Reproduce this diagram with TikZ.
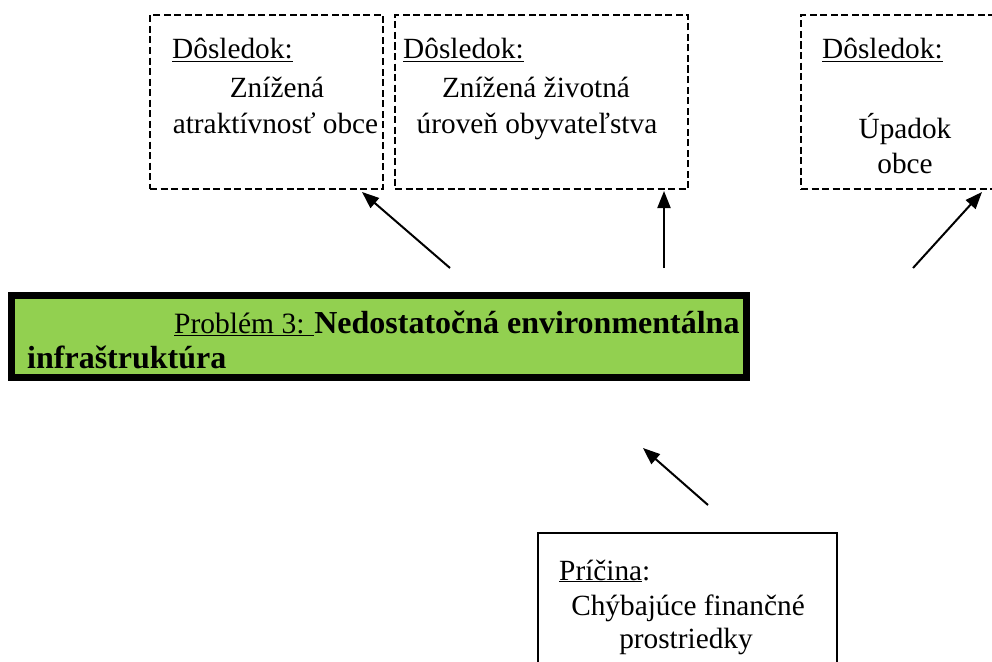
\documentclass[tikz,border=0pt]{standalone}
\usepackage{fontspec}
\setmainfont{Liberation Serif}
\usetikzlibrary{arrows.meta}
\definecolor{probgreen}{RGB}{146,208,80}
\tikzset{
  dbox/.style={draw, line width=2.4pt, dash pattern=on 7pt off 3.5pt, inner sep=0pt},
  sbox/.style={draw, line width=1.5pt, inner sep=0pt},
  gbox/.style={draw, line width=7pt, fill=probgreen, inner sep=0pt},
  txt/.style={inner sep=0pt, font=\fontsize{29.3}{35}\selectfont},
  gtxt/.style={inner sep=0pt, font=\fontsize{32}{36}\selectfont},
  arr/.style={line width=2pt, -{Triangle[length=17pt,width=13pt]}}
}
\begin{document}
\begin{tikzpicture}[x=1pt,y=-1pt]
\useasboundingbox (0,0) rectangle (992,661);
\clip (0,0) rectangle (992,661);
% consequence boxes
\node[dbox, minimum width=233pt, minimum height=174pt] (b1) at (266.5,102) {};
\node[dbox, minimum width=293pt, minimum height=174pt] (b2) at (541.5,102) {};
\node[dbox, minimum width=220pt, minimum height=174pt] (b3) at (911,102) {};
\node[txt, anchor=base west] (b1h) at (172,59) {\underline{Dôsledok:}};
\node[txt, anchor=base] (b1a) at (277,97) {Znížená};
\node[txt, anchor=base] (b1b) at (275.5,133) {atraktívnosť obce};
\node[txt, anchor=base west] (b2h) at (403,59) {\underline{Dôsledok:}};
\node[txt, anchor=base] (b2a) at (536,97) {Znížená životná};
\node[txt, anchor=base] (b2b) at (537,133) {úroveň obyvateľstva};
\node[txt, anchor=base west] (b3h) at (822,59) {\underline{Dôsledok:}};
\node[txt, anchor=base] (b3a) at (905,138) {Úpadok};
\node[txt, anchor=base] (b3b) at (905,173) {obce};
% problem box
\node[gbox, minimum width=735pt, minimum height=82pt] (p) at (379,336.5) {};
\node[gtxt, anchor=base west] (p1) at (174,333) {{\fontsize{29.5}{36}\selectfont\underline{Problém 3: }}\textbf{Nedostatočná environmentálna}};
\node[gtxt, anchor=base west] (p2) at (27,368) {\textbf{infraštruktúra}};
% cause box
\node[sbox, minimum width=299pt, minimum height=150pt] (c) at (687.5,608) {};
\node[txt, anchor=base west] (ch) at (559,580) {\underline{Príčina}:};
\node[txt, anchor=base] (ca) at (688,615) {Chýbajúce finančné};
\node[txt, anchor=base] (cb) at (686,648) {prostriedky};
% arrows
\coordinate (a1s) at (450,268); \coordinate (a1e) at (362,192);
\coordinate (a2s) at (664,268); \coordinate (a2e) at (664,191);
\coordinate (a3s) at (913,268); \coordinate (a3e) at (982,192);
\coordinate (a4s) at (708,505); \coordinate (a4e) at (643,448);
\draw[arr] (a1s) -- (a1e);
\draw[arr] (a2s) -- (a2e);
\draw[arr] (a3s) -- (a3e);
\draw[arr] (a4s) -- (a4e);
\end{tikzpicture}
\end{document}
